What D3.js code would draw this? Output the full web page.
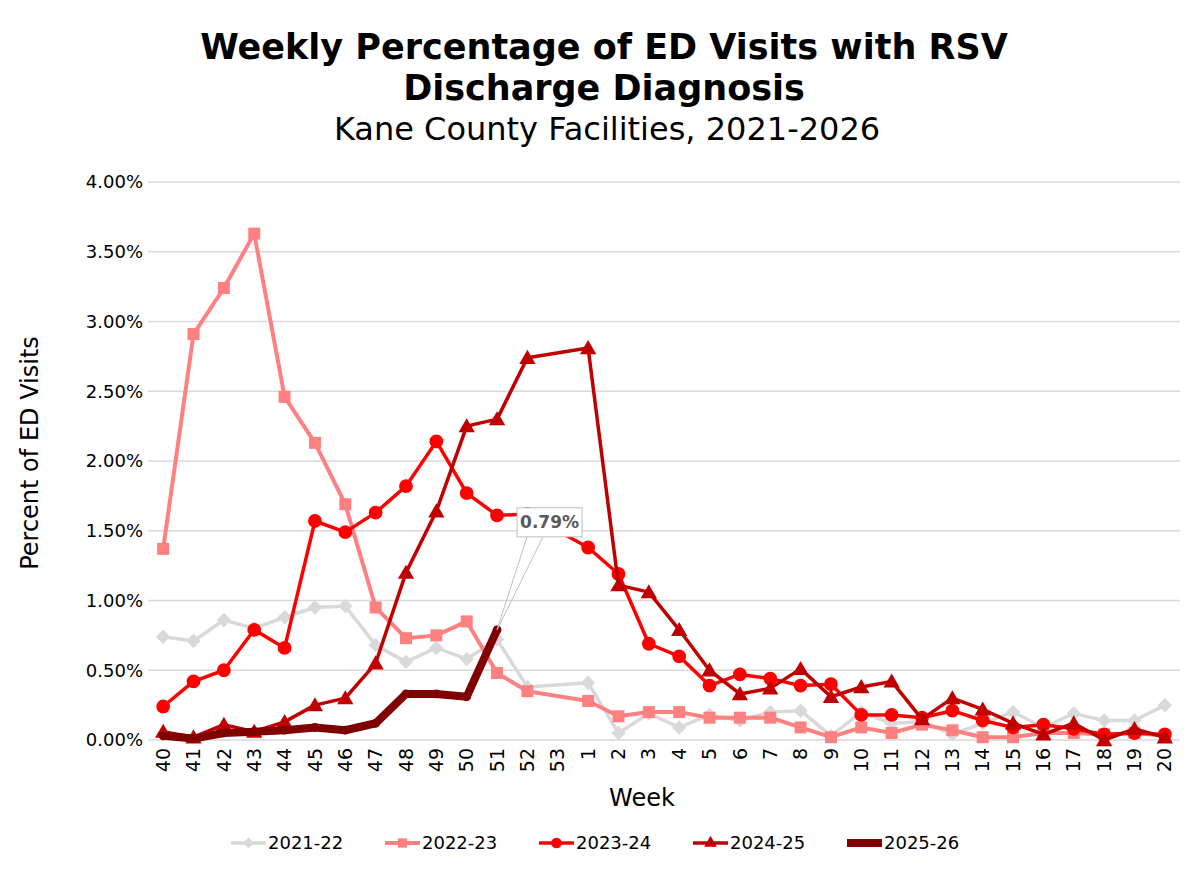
<!DOCTYPE html>
<html>
<head>
<meta charset="utf-8">
<script src="https://cdn.jsdelivr.net/npm/d3@7"></script>
<style>
  body { margin: 0; background: #fff; }
  svg { font-family: "DejaVu Sans", Verdana, sans-serif; }
</style>
</head>
<body>
<svg class="chart" width="1200" height="872"></svg>
<script>
// Week labels along the x axis
const weeks = ["40","41","42","43","44","45","46","47","48","49","50","51","52","53",
  "1","2","3","4","5","6","7","8","9","10","11","12","13","14","15","16","17","18","19","20"];

// Percent of ED visits, one value per week (null = no data)
const season2122 = [0.74,0.71,0.86,0.80,0.88,0.95,0.96,0.68,0.56,0.66,0.58,0.72,0.38,null,
  0.41,0.05,0.19,0.09,0.18,0.14,0.20,0.21,0.03,0.20,0.12,0.13,0.04,0.12,0.20,0.09,0.19,0.14,0.14,0.25];
const season2223 = [1.37,2.91,3.24,3.63,2.46,2.13,1.69,0.95,0.73,0.75,0.85,0.48,0.35,null,
  0.28,0.17,0.20,0.20,0.16,0.16,0.16,0.09,0.02,0.09,0.05,0.11,0.07,0.02,0.02,0.05,0.05,0.04,0.05,0.03];
const season2324 = [0.24,0.42,0.50,0.79,0.66,1.57,1.49,1.63,1.82,2.14,1.77,1.61,1.62,null,
  1.38,1.19,0.69,0.60,0.39,0.47,0.44,0.39,0.40,0.18,0.18,0.16,0.21,0.14,0.09,0.11,0.08,0.04,0.05,0.04];
const season2425 = [0.06,0.02,0.11,0.06,0.13,0.25,0.30,0.55,1.20,1.64,2.25,2.30,2.74,null,
  2.81,1.11,1.06,0.79,0.50,0.33,0.37,0.51,0.31,0.38,0.42,0.15,0.30,0.22,0.12,0.04,0.12,0.00,0.08,0.02];
const season2526 = [0.03,0.01,0.05,0.06,0.07,0.09,0.07,0.12,0.33,0.33,0.31,0.79];

const yTicks = [0, 0.5, 1, 1.5, 2, 2.5, 3, 3.5, 4];
const seasonNames = ["2021-22", "2022-23", "2023-24", "2024-25", "2025-26"];

const series = [
  { name: seasonNames[0], values: season2122, color: "#d9d9d9", width: 3.5, symbol: "diamond", size: 100 },
  { name: seasonNames[1], values: season2223, color: "#ff8080", width: 4, symbol: "square", size: 144 },
  { name: seasonNames[2], values: season2324, color: "#ff0000", width: 3.5, symbol: "circle", size: 150 },
  { name: seasonNames[3], values: season2425, color: "#c00000", width: 3.5, symbol: "triangle", size: 115 },
  { name: seasonNames[4], values: season2526, color: "#800000", width: 8, symbol: "circle", size: 60 }
];

const svg = d3.select(".chart");
const plotLeft = 148, plotRight = 1180, plotTop = 182, plotBottom = 740;

const x = d3.scaleBand().domain(weeks).range([plotLeft, plotRight]);
const y = d3.scaleLinear().domain([0, 4]).range([plotBottom, plotTop]);
const cx = w => x(w) + x.bandwidth() / 2;

// gridlines
svg.append("g")
  .selectAll("line")
  .data(yTicks)
  .enter()
  .append("line")
  .attr("x1", plotLeft)
  .attr("x2", plotRight)
  .attr("y1", d => y(d))
  .attr("y2", d => y(d))
  .attr("stroke", "#d9d9d9")
  .attr("stroke-width", 1.3);

// y axis labels
const yAxis = svg.append("g")
  .attr("transform", "translate(" + plotLeft + ",0)")
  .call(d3.axisLeft(y).tickValues(yTicks).tickSize(0).tickPadding(5).tickFormat(d => d.toFixed(2) + "%"));
yAxis.select(".domain").remove();
yAxis.selectAll("text")
  .style("font-family", "DejaVu Sans, Verdana, sans-serif")
  .style("font-size", "18px")
  .attr("fill", "#000");

// x axis labels (rotated)
const xAxis = svg.append("g")
  .attr("transform", "translate(0," + plotBottom + ")")
  .call(d3.axisBottom(x).tickSize(0).tickPadding(0));
xAxis.select(".domain").remove();
xAxis.selectAll("text")
  .style("font-family", "DejaVu Sans, Verdana, sans-serif")
  .style("font-size", "19px")
  .attr("fill", "#000")
  .attr("transform", "rotate(-90)")
  .attr("text-anchor", "end")
  .attr("x", -8)
  .attr("y", 0)
  .attr("dy", "0.35em");

function symbolPath(kind, size) {
  if (kind === "diamond") {
    const s = Math.sqrt(size) * 0.72;
    return "M0," + (-s) + "L" + s + ",0L0," + s + "L" + (-s) + ",0Z";
  }
  const types = { square: d3.symbolSquare, circle: d3.symbolCircle, triangle: d3.symbolTriangle };
  return d3.symbol().type(types[kind]).size(size)();
}

const line = d3.line()
  .x(d => cx(d.w))
  .y(d => y(d.v));

series.forEach(s => {
  const pts = s.values.map((v, i) => ({ w: weeks[i], v: v }));
  const defined = pts.filter(d => d.v != null);
  const g = svg.append("g");
  g.append("path")
    .datum(defined)
    .attr("d", line)
    .attr("fill", "none")
    .attr("stroke", s.color)
    .attr("stroke-width", s.width)
    .attr("stroke-linejoin", "round")
    .attr("stroke-linecap", "round");
  g.selectAll(".pt")
    .data(defined)
    .enter()
    .append("path")
    .attr("class", "pt")
    .attr("d", symbolPath(s.symbol, s.size))
    .attr("transform", d => "translate(" + cx(d.w) + "," + (y(d.v) + (s.symbol === "triangle" ? 1.5 : 0)) + ")")
    .attr("fill", s.color);
});

// callout for latest value
const lastIdx = season2526.length - 1;
const px = cx(weeks[lastIdx]), py = y(season2526[lastIdx]);
const bx = px + 20, by = py - 122, bw = 65, bh = 29;
const callout = svg.append("g");
callout.append("path")
  .attr("d", "M" + (bx + 10) + "," + (by + bh) + "L" + px + "," + py + "L" + (bx + 26) + "," + (by + bh))
  .attr("fill", "none")
  .attr("stroke", "#bfbfbf")
  .attr("stroke-width", 1);
callout.append("rect")
  .attr("x", bx).attr("y", by).attr("width", bw).attr("height", bh)
  .attr("fill", "#fff")
  .attr("stroke", "#bfbfbf")
  .attr("stroke-width", 1);
callout.append("text")
  .attr("x", bx + bw / 2)
  .attr("y", by + bh / 2)
  .attr("dy", "0.36em")
  .attr("text-anchor", "middle")
  .attr("fill", "#595959")
  .style("font-weight", "bold")
  .style("font-size", "17px")
  .text(season2526[lastIdx].toFixed(2) + "%");

// titles
svg.append("text")
  .attr("x", 604).attr("y", 59)
  .attr("text-anchor", "middle")
  .style("font-weight", "bold")
  .style("font-size", "35px")
  .text("Weekly Percentage of ED Visits with RSV");
svg.append("text")
  .attr("x", 604).attr("y", 100)
  .attr("text-anchor", "middle")
  .style("font-weight", "bold")
  .style("font-size", "35px")
  .text("Discharge Diagnosis");
svg.append("text")
  .attr("x", 607).attr("y", 140)
  .attr("text-anchor", "middle")
  .style("font-size", "32px")
  .text("Kane County Facilities, 2021-2026");

// axis titles
svg.append("text")
  .attr("transform", "translate(38,453) rotate(-90)")
  .attr("text-anchor", "middle")
  .style("font-size", "24px")
  .text("Percent of ED Visits");
svg.append("text")
  .attr("x", 642)
  .attr("y", 806)
  .attr("text-anchor", "middle")
  .style("font-size", "24px")
  .text("Week");

// legend
const legend = svg.append("g");
series.forEach((s, i) => {
  const lx = 231 + i * 154, ly = 843;
  legend.append("line")
    .attr("x1", lx).attr("x2", lx + 35)
    .attr("y1", ly).attr("y2", ly)
    .attr("stroke", s.color)
    .attr("stroke-width", s.width);
  legend.append("path")
    .attr("d", symbolPath(s.symbol, s.size * 0.6))
    .attr("transform", "translate(" + (lx + 17.5) + "," + ly + ")")
    .attr("fill", s.color);
  legend.append("text")
    .attr("x", lx + 37)
    .attr("y", ly)
    .attr("dy", "0.35em")
    .style("font-size", "18px")
    .text(s.name);
});
</script>
</body>
</html>
